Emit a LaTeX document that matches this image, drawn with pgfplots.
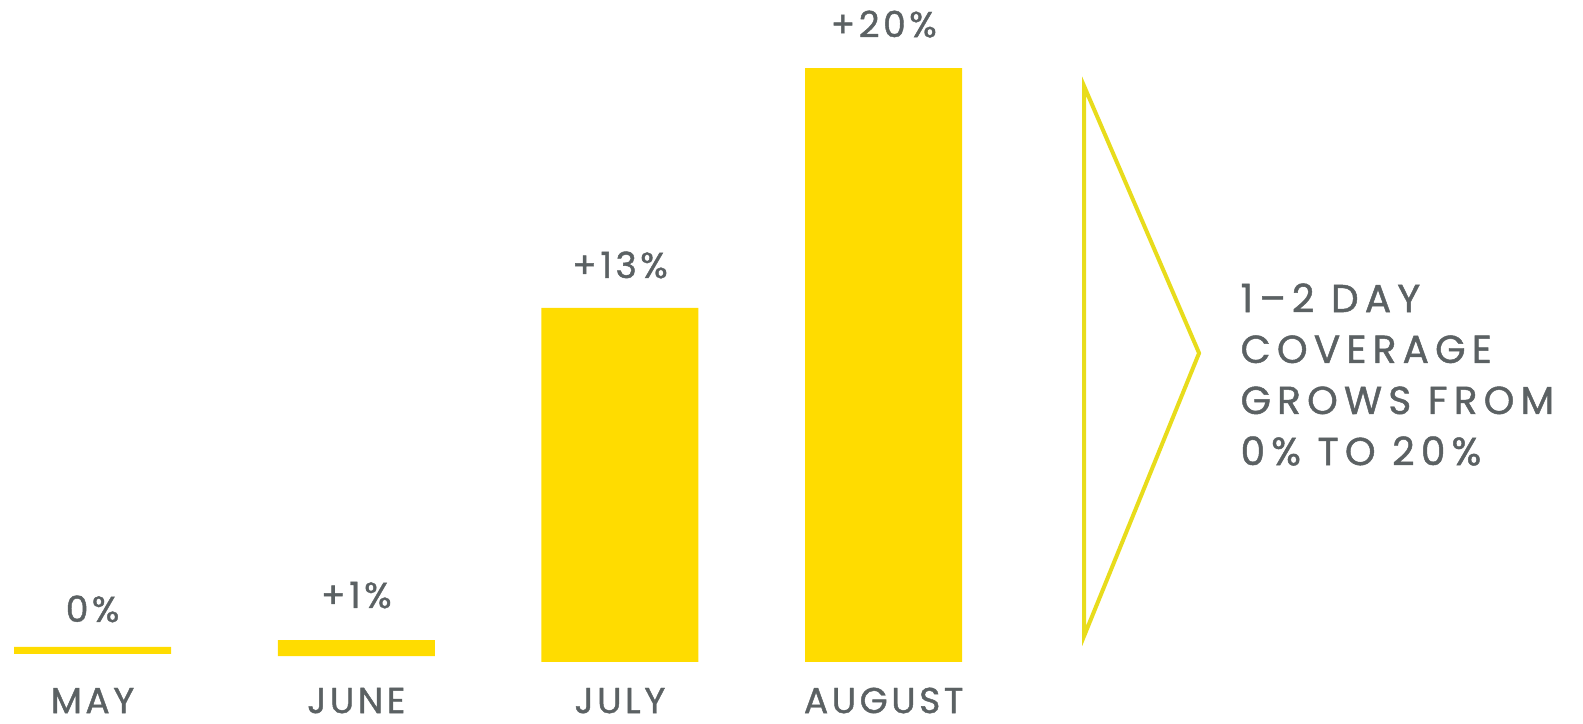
\documentclass[border=0pt]{standalone}
\usepackage{pgfplots}
\pgfplotsset{compat=1.18}
\usepackage{fontspec}
\setmainfont{Poppins}
\newfontfamily\lab{Poppins}[LetterSpace=10,FakeBold=1.2]
\newfontfamily\side{Poppins}[LetterSpace=16,FakeBold=1.2]
\definecolor{barY}{HTML}{FFDC00}
\definecolor{triY}{HTML}{E8DC1C}
\definecolor{txt}{HTML}{5B6163}
\pgfplotsset{base/.style={
  scale only axis,
  width=791.5pt, height=362pt,
  xmin=-0.351, xmax=5.652,
  ymin=-2.088, ymax=22.29,
  hide axis, clip=false}}
\tikzset{vl/.style={txt, anchor=base, inner sep=0pt, font=\lab\fontsize{18}{20}\selectfont}}
\begin{document}
\begin{tikzpicture}
\begin{axis}[base, ybar stacked, bar width=78.5pt]
\path (rel axis cs:0,0) rectangle (rel axis cs:1,1);
% invisible base offsets (bars sit slightly above baseline in reference)
\addplot[draw=none, fill=none] coordinates {(0,0.27) (1,0.20) (2,0) (3,0)};
\addplot[draw=none, fill=barY] coordinates {(0,0.24) (1,0.54) (2,11.92) (3,20)};
% value labels
\node[vl] at (axis cs:0,1.35) {0\%};
\node[vl] at (axis cs:1,1.82) {+1\%};
\node[vl] at (axis cs:2,12.93) {+13\%};
\node[vl] at (axis cs:3,21.04) {+20\%};
% month labels
\node[vl] at (axis cs:0,-1.72) {MAY};
\node[vl] at (axis cs:1,-1.72) {JUNE};
\node[vl] at (axis cs:2,-1.72) {JULY};
\node[vl] at (axis cs:3,-1.72) {AUGUST};
\end{axis}
\begin{axis}[base]
\addplot[sharp plot, draw=triY, line width=2pt, line join=miter, no marks, fill=none]
  coordinates {(3.76,19.39) (4.196,10.40) (3.76,0.875) (3.76,19.39)} -- cycle;
\node[txt, anchor=base west, inner sep=0pt, font=\side\fontsize{19.5}{25.5}\selectfont] at (axis cs:4.352,11.78) {1–2 DAY};
\node[txt, anchor=base west, inner sep=0pt, font=\side\fontsize{19.5}{25.5}\selectfont] at (axis cs:4.352,10.07) {COVERAGE};
\node[txt, anchor=base west, inner sep=0pt, font=\side\fontsize{19.5}{25.5}\selectfont] at (axis cs:4.352,8.35) {GROWS FROM};
\node[txt, anchor=base west, inner sep=0pt, font=\side\fontsize{19.5}{25.5}\selectfont] at (axis cs:4.352,6.63) {0\% TO 20\%};
\end{axis}
\end{tikzpicture}
\end{document}
